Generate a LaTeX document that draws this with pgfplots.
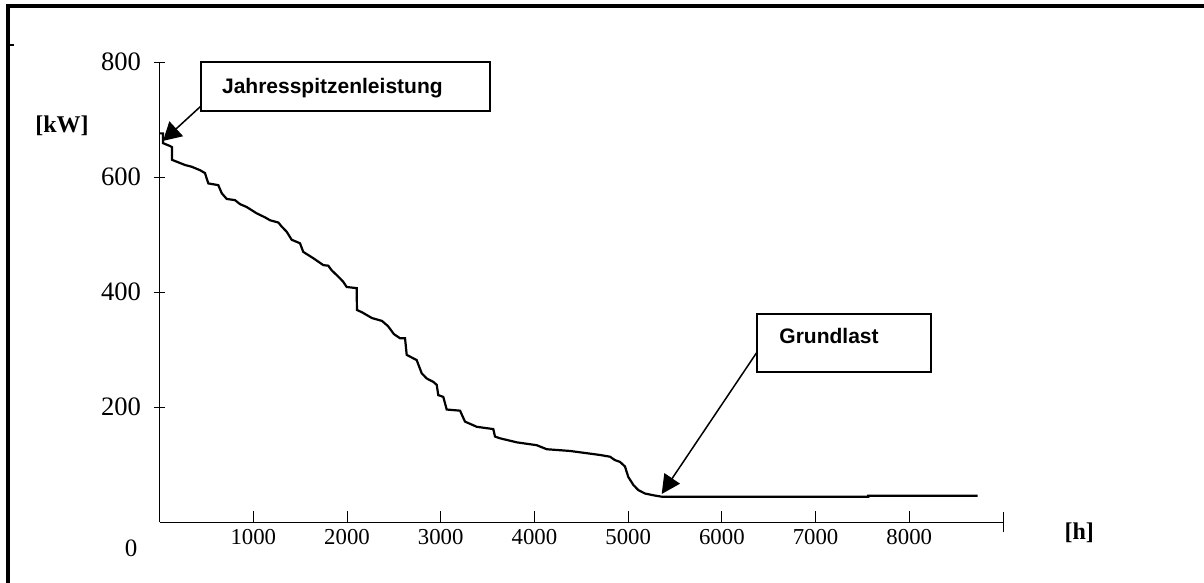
\documentclass[border=0pt]{standalone}
\usepackage{fontspec}
\setmainfont{Liberation Serif}
\newfontfamily\arial{Liberation Sans}
\usepackage{pgfplots}
\pgfplotsset{compat=1.18}
\usetikzlibrary{arrows.meta}
\begin{document}
\begin{tikzpicture}
\path[use as bounding box] (0,0) rectangle (602pt,291.5pt);
\draw[line width=2pt] (4pt,0) -- (4pt,289.5pt);
\draw[line width=2pt] (3pt,288.5pt) -- (602pt,288.5pt);
\draw[line width=0.6pt] (5pt,269pt) -- (7pt,269pt);
\begin{axis}[
  at={(79.8pt,30.35pt)}, anchor=south west,
  scale only axis, width=421.7pt, height=230.15pt,
  xmin=0, xmax=9000, ymin=0, ymax=800,
  axis lines=left,
  axis line style={-, line width=0.5pt},
  xtick={1000,2000,3000,4000,5000,6000,7000,8000},
  ytick={200,400,600,800},
  xtick align=inside, ytick align=center,
  major tick length=5.5pt,
  extra x ticks={9000}, extra x tick labels={},
  extra x tick style={tick align=center, major tick length=10pt},
  tick style={black, line width=0.5pt},
  /pgf/number format/assume math mode=true,
  /pgf/number format/1000 sep={},
  xticklabel style={font=\fontsize{11.4}{13}\selectfont},
  yticklabel style={font=\fontsize{13.3}{15}\selectfont, xshift=-3pt},
  clip=false,
]
\addplot[black, line width=1.1pt] coordinates {
(0,676) (36,676) (36,659) (111,654) (132,652) (132,630) (271,621) (342,618)
(431,612) (484,607) (520,589) (626,586) (663,572) (716,562) (804,560) (858,553)
(929,548) (1036,537) (1125,530) (1178,525) (1267,521) (1303,514) (1356,505)
(1410,491) (1498,485) (1533,470) (1640,459) (1747,447) (1800,446) (1836,438)
(1907,427) (1960,418) (1996,409) (2103,407) (2106,369) (2160,365) (2266,355)
(2373,350) (2437,341) (2501,327) (2565,320) (2619,320) (2637,291) (2707,285)
(2743,282) (2797,259) (2850,250) (2921,244) (2957,239) (2974,221) (3027,218)
(3064,196) (3206,194) (3259,175) (3384,166) (3561,162) (3579,149) (3632,146)
(3811,139) (4024,134) (4131,127) (4379,124) (4700,117) (4806,114) (4860,108)
(4913,105) (4966,97) (5001,79) (5055,65) (5108,56) (5180,50) (5268,47)
(5358,44.5) (7562,44.5) (7562,46.2) (8730,46.2)
};
% annotations
\draw[line width=1pt, fill=white] (438.6,714.8) rectangle (3525.8,800);
\node[anchor=base west, inner sep=0pt, font=\arial\bfseries\fontsize{10.5}{12}\selectfont] at (662.7,745.6) {Jahresspitzenleistung};
\draw[line width=0.75pt, -{Triangle[length=9pt,width=10pt]}] (442,723.5) -- (36.3,662.9);
\draw[line width=1pt, fill=white] (6378,261.7) rectangle (8232,362);
\node[anchor=base west, inner sep=0pt, font=\arial\bfseries\fontsize{10.5}{12}\selectfont] at (6610,310.2) {Grundlast};
\draw[line width=0.75pt, -{Triangle[length=9.4pt,width=9.3pt]}] (6378,296.5) -- (5358,49.2);
\node[font=\bfseries\fontsize{12}{14}\selectfont] at (-1041,688.8) {[kW]};
\node[font=\bfseries\fontsize{12}{14}\selectfont] at (9814,-18.6) {[h]};
\node[font=\fontsize{12.5}{14}\selectfont] at (-305,-45.5) {0};
\end{axis}
\end{tikzpicture}
\end{document}
